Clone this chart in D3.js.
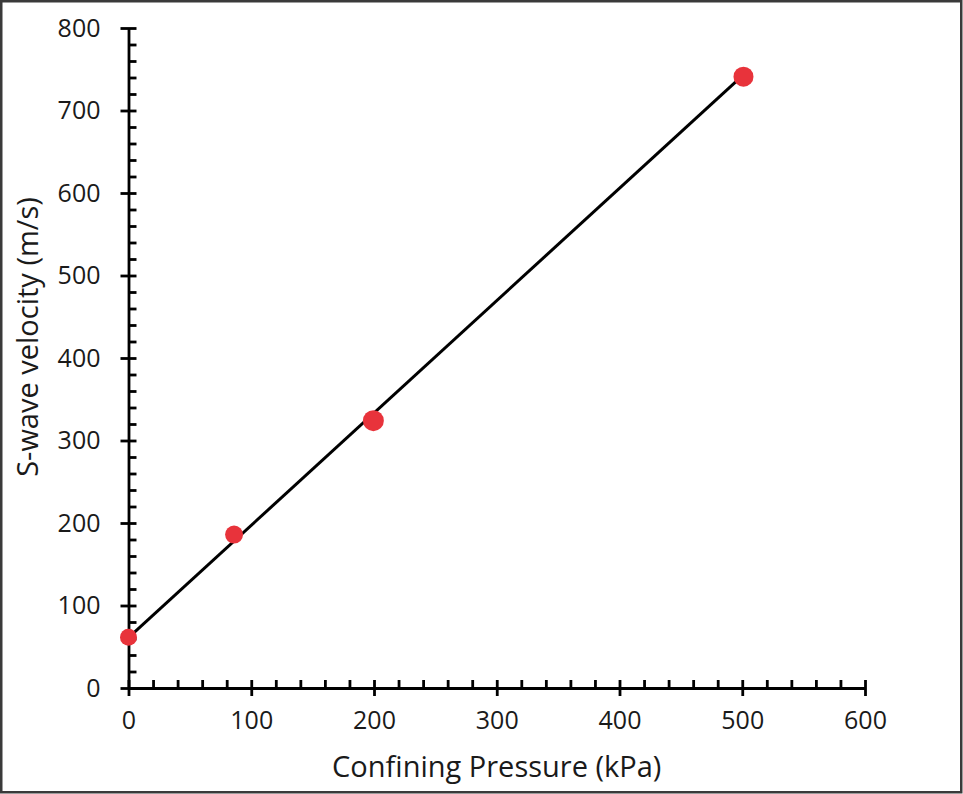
<!DOCTYPE html>
<html>
<head>
<meta charset="utf-8">
<script src="https://cdn.jsdelivr.net/npm/d3@7"></script>
<style>
  html, body { margin: 0; padding: 0; background: #fff; }
  svg { display: block; font-family: "Open Sans", "Noto Sans", sans-serif; }
</style>
</head>
<body>
<svg id="chart" width="963" height="794"></svg>
<script>
// Measured S-wave velocity versus confining pressure
const pressure = [0, 86, 199.5, 501];
const velocity = [61.5, 186, 324, 741];
const markerRadius = [8.5, 9, 10.5, 10];

// Linear trend line end points
const trendPressure = [0, 500];
const trendVelocity = [61, 742];

// Axis ticks
const xMajor = [0, 100, 200, 300, 400, 500, 600];
const yMajor = [0, 100, 200, 300, 400, 500, 600, 700, 800];
const xMinor = d3.range(0, 601, 20).filter(v => v % 100 !== 0);
const yMinor = d3.range(0, 801, 20).filter(v => v % 100 !== 0);

(function draw() {
  const W = 963, H = 794;
  const plotLeft = 128.5, plotRight = 865, plotTop = 28, plotBottom = 688;

  const svg = d3.select("#chart");

  // outer frame
  svg.append("rect")
    .attr("x", 1.25).attr("y", 1.25)
    .attr("width", W - 3).attr("height", H - 3)
    .attr("fill", "#fff").attr("stroke", "#3a3a3a").attr("stroke-width", 2.5);

  const x = d3.scaleLinear().domain([0, 600]).range([plotLeft, plotRight]);
  const y = d3.scaleLinear().domain([0, 800]).range([plotBottom, plotTop]);

  const axisColor = "#000";
  const axisWidth = 2.8;
  const tickFont = 25;
  const textColor = "#1a1a1a";

  // minor ticks (inward)
  svg.append("g")
    .attr("transform", `translate(0,${plotBottom})`)
    .call(d3.axisBottom(x).tickValues(xMinor).tickSize(-8).tickSizeOuter(0).tickFormat(""))
    .call(g => g.select(".domain").remove())
    .call(g => g.selectAll(".tick line").attr("stroke", axisColor).attr("stroke-width", axisWidth));

  svg.append("g")
    .attr("transform", `translate(${plotLeft},0)`)
    .call(d3.axisLeft(y).tickValues(yMinor).tickSize(-8).tickSizeOuter(0).tickFormat(""))
    .call(g => g.select(".domain").remove())
    .call(g => g.selectAll(".tick line").attr("stroke", axisColor).attr("stroke-width", axisWidth));

  // major ticks crossing the axis, with labels
  const xAxis = svg.append("g")
    .attr("transform", `translate(0,${plotBottom})`)
    .call(d3.axisBottom(x).tickValues(xMajor).tickSize(8).tickSizeOuter(0).tickPadding(15).tickFormat(d3.format("d")));
  xAxis.select(".domain").attr("stroke", axisColor).attr("stroke-width", axisWidth);
  xAxis.selectAll(".tick line").attr("y1", -8).attr("y2", 8)
    .attr("stroke", axisColor).attr("stroke-width", axisWidth);
  xAxis.selectAll(".tick text")
    .attr("font-size", tickFont).attr("fill", textColor)
    .attr("font-family", "'Open Sans', sans-serif");

  const yAxis = svg.append("g")
    .attr("transform", `translate(${plotLeft},0)`)
    .call(d3.axisLeft(y).tickValues(yMajor).tickSize(8).tickSizeOuter(0).tickPadding(20).tickFormat(d3.format("d")));
  yAxis.select(".domain").attr("stroke", axisColor).attr("stroke-width", axisWidth);
  yAxis.selectAll(".tick line").attr("x1", -8).attr("x2", 8)
    .attr("stroke", axisColor).attr("stroke-width", axisWidth);
  yAxis.selectAll(".tick text")
    .attr("font-size", tickFont).attr("fill", textColor)
    .attr("font-family", "'Open Sans', sans-serif");

  // trend line
  const trend = trendPressure.map((p, i) => [p, trendVelocity[i]]);
  svg.append("path")
    .datum(trend)
    .attr("fill", "none")
    .attr("stroke", "#000")
    .attr("stroke-width", 3)
    .attr("d", d3.line().x(d => x(d[0])).y(d => y(d[1])));

  // measured points
  svg.append("g")
    .selectAll("circle")
    .data(pressure.map((p, i) => ({ p, v: velocity[i], r: markerRadius[i] })))
    .join("circle")
    .attr("cx", d => x(d.p))
    .attr("cy", d => y(d.v))
    .attr("r", d => d.r)
    .attr("fill", "#e8333b");

  // axis titles
  svg.append("text")
    .attr("x", (plotLeft + plotRight) / 2)
    .attr("y", 777)
    .attr("text-anchor", "middle")
    .attr("font-size", 29)
    .attr("fill", textColor)
    .text("Confining Pressure (kPa)");

  svg.append("text")
    .attr("transform", "translate(38,337) rotate(-90)")
    .attr("text-anchor", "middle")
    .attr("font-size", 29)
    .attr("fill", textColor)
    .text("S-wave velocity (m/s)");
})();
</script>
</body>
</html>
